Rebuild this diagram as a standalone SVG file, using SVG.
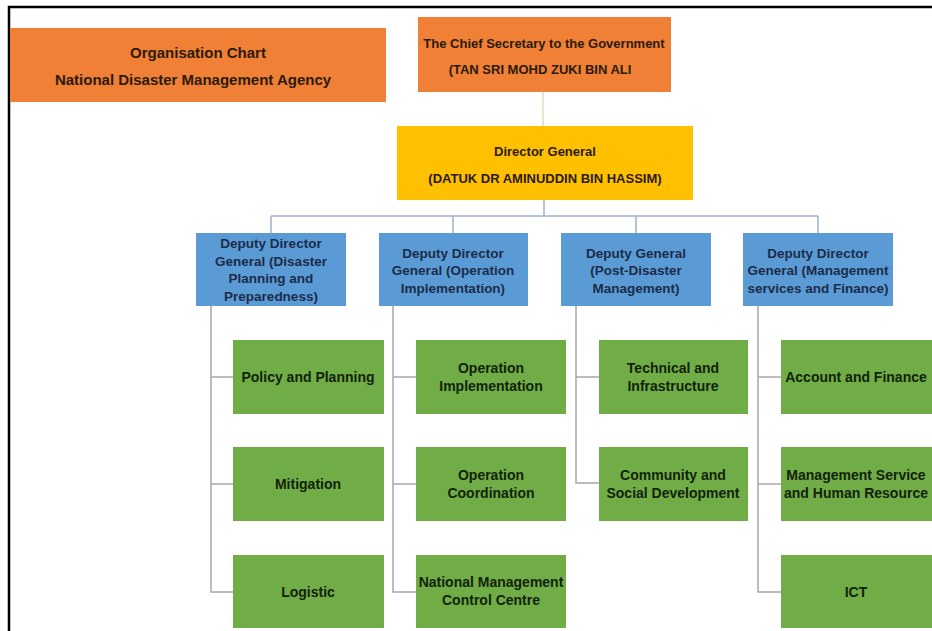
<svg xmlns="http://www.w3.org/2000/svg" width="932" height="631" viewBox="0 0 932 631">
<style>
  text { font-family: "Liberation Sans", Arial, sans-serif; font-weight: bold; text-anchor: middle; }
  .org rect { fill: #EF8035; }
  .dg rect { fill: #FFC000; }
  .dep rect { fill: #5B9BD5; }
  .unit rect { fill: #70AD47; }
  .org text, .dg text { font-size: 13px; fill: #2B1A0E; }
  #title text { font-size: 15px; }
  .dep text { font-size: 13.5px; fill: #1B2C4A; }
  .unit text { font-size: 14px; fill: #13220B; }
  .conn path { fill: none; stroke-width: 1.5; }
  .top { stroke: #E3DBB8; }
  .bus { stroke: #9EB2CC; }
  .sub { stroke: #A8A8A8; }
</style>
<rect width="932" height="631" fill="#FFFFFF"/>
<path d="M9 631 V7 H932" fill="none" stroke="#000" stroke-width="2.5"/>

<g id="connectors" class="conn">
  <path class="top" d="M543 92 V126"/>
  <path class="bus" d="M544 200 V216 M271 216 H818 M271 216 V233 M453 216 V233 M636 216 V233 M818 216 V233"/>
  <path class="sub" d="M211 306 V592 H233 M211 377 H233 M211 484 H233"/>
  <path class="sub" d="M393 306 V592 H416 M393 377 H416 M393 484 H416"/>
  <path class="sub" d="M576 306 V483 H599 M576 377 H599"/>
  <path class="sub" d="M758 306 V592 H781 M758 377 H781 M758 484 H781"/>
</g>

<g id="title" class="org">
  <rect x="10" y="28" width="376" height="74"/>
  <text x="198" y="58">Organisation Chart</text>
  <text x="193" y="85">National Disaster  Management Agency</text>
</g>

<g id="chief" class="org">
  <rect x="418" y="17" width="253" height="75"/>
  <text x="544" y="48">The Chief Secretary to the Government</text>
  <text x="540" y="74">(TAN SRI MOHD ZUKI BIN ALI</text>
</g>

<g id="director-general" class="dg">
  <rect x="397" y="126" width="296" height="74"/>
  <text x="545" y="156">Director General</text>
  <text x="545" y="183">(DATUK DR AMINUDDIN BIN HASSIM)</text>
</g>

<g id="ddg-planning" class="dep">
  <rect x="196" y="233" width="150" height="73"/>
  <text x="271" y="248">Deputy Director</text>
  <text x="271" y="266">General (Disaster</text>
  <text x="271" y="283">Planning and</text>
  <text x="271" y="301">Preparedness)</text>
</g>

<g id="ddg-operation" class="dep">
  <rect x="379" y="233" width="149" height="73"/>
  <text x="453" y="258">Deputy Director</text>
  <text x="453" y="275">General (Operation</text>
  <text x="453" y="293">Implementation)</text>
</g>

<g id="dg-post-disaster" class="dep">
  <rect x="561" y="233" width="150" height="73"/>
  <text x="636" y="258">Deputy General</text>
  <text x="636" y="275">(Post-Disaster</text>
  <text x="636" y="293">Management)</text>
</g>

<g id="ddg-management" class="dep">
  <rect x="743" y="233" width="150" height="73"/>
  <text x="818" y="258">Deputy Director</text>
  <text x="818" y="275">General (Management</text>
  <text x="818" y="293">services and Finance)</text>
</g>

<g id="policy-planning" class="unit">
  <rect x="233" y="340" width="151" height="74"/>
  <text x="308" y="382">Policy and Planning</text>
</g>
<g id="mitigation" class="unit">
  <rect x="233" y="447" width="151" height="74"/>
  <text x="308" y="489">Mitigation</text>
</g>
<g id="logistic" class="unit">
  <rect x="233" y="555" width="151" height="73"/>
  <text x="308" y="597">Logistic</text>
</g>

<g id="operation-implementation" class="unit">
  <rect x="416" y="340" width="150" height="74"/>
  <text x="491" y="373">Operation</text>
  <text x="491" y="391">Implementation</text>
</g>
<g id="operation-coordination" class="unit">
  <rect x="416" y="447" width="150" height="74"/>
  <text x="491" y="480">Operation</text>
  <text x="491" y="498">Coordination</text>
</g>
<g id="nmcc" class="unit">
  <rect x="416" y="555" width="150" height="73"/>
  <text x="491" y="587">National Management</text>
  <text x="491" y="605">Control Centre</text>
</g>

<g id="technical-infrastructure" class="unit">
  <rect x="599" y="340" width="149" height="74"/>
  <text x="673" y="373">Technical and</text>
  <text x="673" y="391">Infrastructure</text>
</g>
<g id="community-social" class="unit">
  <rect x="599" y="447" width="149" height="74"/>
  <text x="673" y="480">Community and</text>
  <text x="673" y="498">Social Development</text>
</g>

<g id="account-finance" class="unit">
  <rect x="781" y="340" width="151" height="74"/>
  <text x="856" y="382">Account and Finance</text>
</g>
<g id="management-service" class="unit">
  <rect x="781" y="447" width="151" height="74"/>
  <text x="856" y="480">Management Service</text>
  <text x="856" y="498">and Human Resource</text>
</g>
<g id="ict" class="unit">
  <rect x="781" y="555" width="151" height="73"/>
  <text x="856" y="597">ICT</text>
</g>
</svg>
